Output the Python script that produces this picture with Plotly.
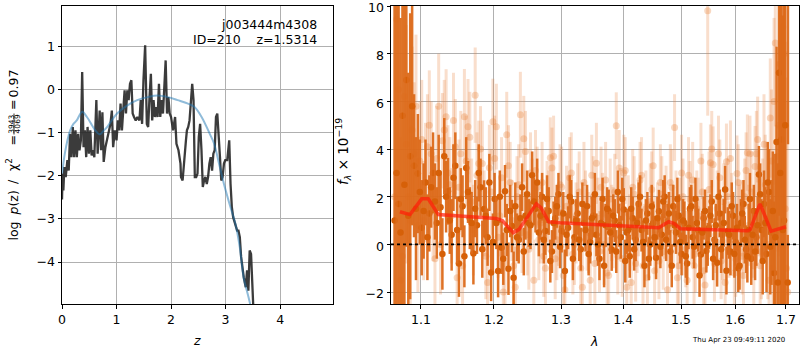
import plotly.graph_objects as go

# ---------------- redshift probability panel ----------------
z_grid = [0.000, 0.012, 0.025, 0.043, 0.068, 0.099, 0.123, 0.148, 0.173, 0.198, 0.222, 0.247,
          0.272, 0.296, 0.321, 0.346, 0.370, 0.395, 0.420, 0.444, 0.469, 0.494, 0.519, 0.543,
          0.568, 0.593, 0.630, 0.654, 0.691, 0.716, 0.741, 0.765, 0.796, 0.827, 0.858, 0.889,
          0.914, 0.938, 0.969, 1.000, 1.025, 1.049, 1.074, 1.099, 1.123, 1.148, 1.173, 1.198,
          1.222, 1.247, 1.272, 1.296, 1.321, 1.352, 1.383, 1.420, 1.444, 1.469, 1.494, 1.525,
          1.556, 1.580, 1.605, 1.630, 1.654, 1.679, 1.704, 1.728, 1.753, 1.778, 1.802, 1.827,
          1.852, 1.877, 1.901, 1.926, 1.951, 1.975, 2.000, 2.037, 2.074, 2.099, 2.136, 2.173,
          2.182, 2.212, 2.242, 2.273, 2.291, 2.315, 2.339, 2.364, 2.388, 2.412, 2.436, 2.461,
          2.485, 2.509, 2.533, 2.558, 2.582, 2.606, 2.630, 2.655, 2.679, 2.703, 2.727, 2.752,
          2.776, 2.800, 2.824, 2.848, 2.873, 2.897, 2.921, 2.945, 2.970, 2.994, 3.030, 3.067,
          3.091, 3.115, 3.139, 3.176, 3.212, 3.236, 3.261, 3.285, 3.309, 3.333, 3.370, 3.394,
          3.418, 3.442, 3.467, 3.491, 3.515, 3.527]
log_pz = [-2.55, -1.95, -2.34, -1.80, -2.03, -1.64, -1.88, -1.03, -1.57, -0.87, -1.57, -0.95,
          -1.57, -1.03, -1.41, -1.18, 0.40, -1.34, -0.95, -1.57, -0.87, -1.49, -0.95, -1.53,
          -1.41, -1.57, -0.25, -1.49, -0.49, -1.41, -0.53, -1.68, -1.34, -1.18, -1.03, -0.80,
          -0.49, -1.34, -0.95, -1.18, -0.72, -0.95, -0.33, -0.95, -0.49, -0.02, -0.56, -0.02,
          -0.25, 0.13, 0.21, -0.56, -0.64, -0.72, -0.64, -0.72, -0.25, -0.80, 0.21, 1.02,
          -0.80, -0.87, -0.18, 0.36, -0.72, -0.25, -0.64, -0.41, -0.64, 0.13, -0.64, -0.25,
          -0.56, 0.05, 0.67, -0.56, -0.18, -0.56, -0.64, -0.95, -0.64, -1.26, -1.41, -1.72,
          -2.03, -2.11, -1.57, -1.18, -0.95, -0.87, -0.72, -0.18, 0.13, -0.25, -2.03, -2.03,
          -1.95, -1.10, -0.80, -1.41, -2.26, -2.11, -2.03, -2.19, -2.03, -1.72, -1.57, -1.88,
          -1.49, -1.41, -0.64, -0.56, -1.26, -1.57, -2.11, -2.03, -1.72, -1.64, -1.64, -1.18,
          -2.19, -2.73, -2.96, -3.11, -3.27, -3.27, -3.42, -3.88, -4.19, -4.35, -4.58, -4.19,
          -4.66, -3.73, -3.81, -4.50, -4.97, -5.60]

z_model = [0.000, 0.025, 0.050, 0.100, 0.150, 0.210, 0.270, 0.370, 0.457, 0.550, 0.610, 0.690,
           0.770, 0.830, 0.890, 1.010, 1.200, 1.380, 1.570, 1.750, 1.940, 2.120, 2.310, 2.430,
           2.560, 2.710, 2.790, 2.880, 2.970, 3.090, 3.180, 3.260, 3.330, 3.420, 3.480]
log_pz_model = [-1.95, -1.72, -1.50, -1.18, -0.95, -0.80, -0.72, -0.52, -0.64, -0.83, -0.95, -1.04,
                -0.95, -0.87, -0.76, -0.56, -0.37, -0.25, -0.18, -0.14, -0.18, -0.25, -0.33, -0.41,
                -0.64, -1.03, -1.26, -1.72, -2.19, -2.73, -3.11, -3.65, -4.35, -4.81, -5.12]

# ---------------- 1D spectrum panel ----------------
# strong beams (solid orange)
wave_a = [1.066, 1.071, 1.076, 1.081, 1.086, 1.091, 1.096, 1.101, 1.106, 1.111, 1.116, 1.121,
          1.126, 1.131, 1.136, 1.141, 1.146, 1.151, 1.156, 1.161, 1.166, 1.171, 1.176, 1.181,
          1.186, 1.191, 1.196, 1.201, 1.206, 1.211, 1.216, 1.221, 1.226, 1.231, 1.236, 1.241,
          1.246, 1.251, 1.256, 1.261, 1.266, 1.271, 1.276, 1.281, 1.286, 1.291, 1.296, 1.301,
          1.306, 1.311, 1.316, 1.321, 1.326, 1.331, 1.336, 1.341, 1.346, 1.351, 1.356, 1.361,
          1.366, 1.371, 1.376, 1.381, 1.386, 1.391, 1.396, 1.401, 1.406, 1.411, 1.416, 1.421,
          1.426, 1.431, 1.436, 1.441, 1.446, 1.451, 1.456, 1.461, 1.466, 1.471, 1.476, 1.481,
          1.486, 1.491, 1.496, 1.501, 1.506, 1.511, 1.516, 1.521, 1.526, 1.531, 1.536, 1.541,
          1.546, 1.551, 1.556, 1.561, 1.566, 1.571, 1.576, 1.581, 1.586, 1.591, 1.596, 1.601,
          1.606, 1.611, 1.616, 1.621, 1.626, 1.631, 1.636, 1.641, 1.646, 1.651, 1.656, 1.661,
          1.666, 1.671, 1.676, 1.681, 1.686, 1.691, 1.696, 1.704]
flux_a = [1.0, 1.7, 5.4, 6.9, 3.7, 3.3, 2.97, 0.7, 2.6, 1.3, 3.0, 0.9,
          1.56, 3.7, 2.23, 0.4, 3.3, -0.8, 1.6, 3.2, 1.1, -0.38, 0.8, 2.4,
          1.49, 0.3, -1.18, 1.9, -1.12, -0.14, 2.23, -1.02, 0.77, 1.6, 0.2, 2.4,
          1.2, 0.9, 2.9, 1.5, 0.5, 2.0, 0.56, 1.4, -0.3, 1.1, 2.1, 0.56,
          -1.12, 0.7, 1.8, 0.3, 1.3, -0.2, 0.9, 1.6, 0.1, 1.2, 0.4, -0.6,
          1.9, 0.8, 1.4, -0.21, 1.0, 2.2, 0.3, 1.46, 0.5, -0.5, 1.1, 0.2,
          1.7, 0.6, -0.9, 1.3, 0.0, 0.9, -0.56, 1.39, 0.4, 2.0, 0.8, -0.3,
          1.6, 0.5, 1.2, -0.4, 0.9, -0.8, 1.5, 0.3, 1.9, 0.6, -0.42, 1.1,
          -0.28, 0.7, 1.8, 0.2, -0.77, 1.3, 0.4, 2.3, 0.56, -0.3, 1.2, 0.1,
          -1.0, 0.9, 1.7, -0.2, 0.6, -0.6, 1.4, 0.3, 2.93, 0.6, 1.7, -0.4,
          2.2, 0.5, -1.2, 4.3, 7.2, 4.4, 1.0, 12.0]
err_a = [9.0, 9.0, 8.0, 7.0, 6.0, 3.0, 2.5, 2.0, 1.8, 1.6, 1.7, 1.5,
         1.5, 1.6, 1.4, 1.5, 1.4, 1.4, 1.3, 1.3, 1.3, 1.3, 1.2, 1.2,
         1.2, 1.2, 1.2, 1.1, 1.1, 1.1, 1.1, 1.1, 1.1, 1.0, 1.0, 1.0,
         1.0, 1.0, 1.0, 1.0, 1.0, 1.0, 1.0, 1.0, 0.9, 0.9, 0.9, 0.9,
         0.9, 0.9, 0.9, 0.9, 0.9, 0.9, 0.9, 0.9, 0.9, 0.9, 0.9, 0.9,
         0.9, 0.9, 0.9, 0.9, 0.9, 0.9, 0.9, 0.9, 0.9, 0.9, 0.9, 0.9,
         0.9, 0.9, 0.9, 0.9, 0.9, 0.9, 0.9, 0.9, 0.9, 0.9, 0.9, 0.9,
         0.9, 0.9, 0.9, 0.9, 0.9, 0.9, 0.9, 0.9, 0.9, 0.9, 0.9, 0.9,
         0.9, 0.9, 0.9, 0.9, 1.0, 1.0, 1.0, 1.0, 1.0, 1.0, 1.0, 1.0,
         1.0, 1.0, 1.0, 1.0, 1.1, 1.1, 1.1, 1.2, 1.2, 1.3, 1.4, 1.6,
         1.8, 2.2, 3.0, 4.0, 6.0, 7.0, 9.0, 7.8]

wave_c = [1.0685, 1.0735, 1.0785, 1.0835, 1.0885, 1.0935, 1.0985, 1.1035, 1.1085, 1.1135,
          1.1185, 1.1235, 1.1285, 1.1335, 1.1385, 1.1435, 1.1485, 1.1535, 1.1585, 1.1635,
          1.1685, 1.1735, 1.1785, 1.1835, 1.1885, 1.1935, 1.1985, 1.2035, 1.2085, 1.2135,
          1.2185, 1.2235, 1.2285, 1.2335, 1.2385, 1.2435, 1.2485, 1.2535, 1.2585, 1.2635,
          1.2685, 1.2735, 1.2785, 1.2835, 1.2885, 1.2935, 1.2985, 1.3035, 1.3085, 1.3135,
          1.3185, 1.3235, 1.3285, 1.3335, 1.3385, 1.3435, 1.3485, 1.3535, 1.3585, 1.3635,
          1.3685, 1.3735, 1.3785, 1.3835, 1.3885, 1.3935, 1.3985, 1.4035, 1.4085, 1.4135,
          1.4185, 1.4235, 1.4285, 1.4335, 1.4385, 1.4435, 1.4485, 1.4535, 1.4585, 1.4635,
          1.4685, 1.4735, 1.4785, 1.4835, 1.4885, 1.4935, 1.4985, 1.5035, 1.5085, 1.5135,
          1.5185, 1.5235, 1.5285, 1.5335, 1.5385, 1.5435, 1.5485, 1.5535, 1.5585, 1.5635,
          1.5685, 1.5735, 1.5785, 1.5835, 1.5885, 1.5935, 1.5985, 1.6035, 1.6085, 1.6135,
          1.6185, 1.6235, 1.6285, 1.6335, 1.6385, 1.6435, 1.6485, 1.6535, 1.6585, 1.6635,
          1.6685, 1.6735, 1.6785, 1.6835, 1.6885, 1.6935, 1.6985, 1.7035]
flux_c = [3.0, 0.5, 2.5, 1.2, 5.8, 1.5, 2.2, 1.4, 0.3, 2.4,
          1.8, 3.0, -0.4, 2.0, 1.0, 2.8, 0.6, 1.9, -0.5, 2.2,
          0.9, 1.5, 3.0, -0.2, 1.2, 2.6, 0.1, 0.9, 2.0, -0.6,
          0.6, 1.4, -1.4, 0.3, 1.1, -0.3, 2.1, 0.8, 1.8, 2.6,
          1.2, 0.2, 1.9, -0.7, 0.9, 1.6, -0.1, 1.3, 0.4, 2.0,
          -0.6, 1.0, 0.2, 1.7, 0.6, -0.4, 1.1, 2.1, 0.0, 0.9,
          -0.9, 1.5, 0.5, 1.2, -0.3, 0.8, 1.9, -0.7, 0.6, 1.5,
          -0.2, 0.9, 2.0, 0.1, 1.0, -0.6, 1.6, 0.3, 1.1, -0.1,
          1.8, 0.2, 1.3, -0.9, 0.8, 1.9, 0.1, 1.0, -0.5, 0.7,
          1.6, -0.1, 0.9, -1.3, 0.5, 1.4, 0.0, 1.2, -0.6, 0.8,
          2.0, -0.2, 0.9, -1.1, 0.4, 1.6, -0.4, 0.7, -0.9, 1.3,
          0.2, -0.5, 1.9, 0.4, -0.3, 0.8, 2.1, -0.7, 0.9, 2.6,
          -0.1, 1.4, 0.3, -1.6, 3.0, 0.6, 5.0, -1.6]
err_c = [9.0, 9.0, 8.0, 6.0, 5.0, 3.0, 2.2, 2.0, 1.8, 1.7,
         1.6, 1.6, 1.5, 1.5, 1.4, 1.4, 1.4, 1.3, 1.3, 1.3,
         1.3, 1.2, 1.2, 1.2, 1.2, 1.2, 1.2, 1.1, 1.1, 1.1,
         1.1, 1.1, 1.1, 1.0, 1.0, 1.0, 1.0, 1.0, 1.0, 1.0,
         1.0, 1.0, 1.0, 0.9, 0.9, 0.9, 0.9, 0.9, 0.9, 0.9,
         0.9, 0.9, 0.9, 0.9, 0.9, 0.9, 0.9, 0.9, 0.9, 0.9,
         0.9, 0.9, 0.9, 0.9, 0.9, 0.9, 0.9, 0.9, 0.9, 0.9,
         0.9, 0.9, 0.9, 0.9, 0.9, 0.9, 0.9, 0.9, 0.9, 0.9,
         0.9, 0.9, 0.9, 0.9, 0.9, 0.9, 0.9, 0.9, 0.9, 0.9,
         0.9, 0.9, 0.9, 0.9, 0.9, 0.9, 0.9, 0.9, 0.9, 0.9,
         1.0, 1.0, 1.0, 1.0, 1.0, 1.0, 1.0, 1.0, 1.0, 1.0,
         1.0, 1.1, 1.1, 1.1, 1.2, 1.2, 1.3, 1.4, 1.5, 1.7,
         2.0, 2.5, 3.5, 5.0, 7.0, 9.0, 9.0, 2.0]

# weak beams (faint orange)
wave_b = [1.0685, 1.0735, 1.0785, 1.0835, 1.0885, 1.0935, 1.0985, 1.1035, 1.1085, 1.1135,
          1.1185, 1.1235, 1.1285, 1.1335, 1.1385, 1.1435, 1.1485, 1.1535, 1.1585, 1.1635,
          1.1685, 1.1735, 1.1785, 1.1835, 1.1885, 1.1935, 1.1985, 1.2035, 1.2085, 1.2135,
          1.2185, 1.2235, 1.2285, 1.2335, 1.2385, 1.2435, 1.2485, 1.2535, 1.2585, 1.2635,
          1.2685, 1.2735, 1.2785, 1.2835, 1.2885, 1.2935, 1.2985, 1.3035, 1.3085, 1.3135,
          1.3185, 1.3235, 1.3285, 1.3335, 1.3385, 1.3435, 1.3485, 1.3535, 1.3585, 1.3635,
          1.3685, 1.3735, 1.3785, 1.3835, 1.3885, 1.3935, 1.3985, 1.4035, 1.4085, 1.4135,
          1.4185, 1.4235, 1.4285, 1.4335, 1.4385, 1.4435, 1.4485, 1.4535, 1.4585, 1.4635,
          1.4685, 1.4735, 1.4785, 1.4835, 1.4885, 1.4935, 1.4985, 1.5035, 1.5085, 1.5135,
          1.5185, 1.5235, 1.5285, 1.5335, 1.5385, 1.5435, 1.5485, 1.5535, 1.5585, 1.5635,
          1.5685, 1.5735, 1.5785, 1.5835, 1.5885, 1.5935, 1.5985, 1.6035, 1.6085, 1.6135,
          1.6185, 1.6235, 1.6285, 1.6335, 1.6385, 1.6435, 1.6485, 1.6535, 1.6585, 1.6635,
          1.6685, 1.6735, 1.6785, 1.6835, 1.6885, 1.6935, 1.6985, 1.7035]
flux_b = [9.44, -1.5, 6.2, 2.0, 4.8, 5.8, 3.5, 1.0, 4.1, 3.8,
          -0.6, 5.8, 4.35, 5.35, 2.5, 5.2, -1.4, 3.8, 5.36, 4.94,
          1.8, 6.26, 3.39, 3.39, -0.5, 3.22, 5.15, 4.94, 1.2, -2.0,
          4.6, 2.6, -0.9, 2.0, 5.44, 4.43, 0.4, 3.0, -1.5, 2.4,
          0.9, -0.5, 1.8, 3.63, 3.7, 0.2, 2.5, -1.3, 1.6, 2.8,
          -0.4, 0.9, 2.2, -1.8, 1.4, 0.5, 2.9, -0.8, 1.1, 2.4,
          0.0, -1.2, 1.9, 0.7, 4.98, 3.2, -0.6, 3.1, 1.3, -1.6,
          2.1, 0.4, 2.7, -0.9, 1.5, 0.2, 2.3, -1.1, 1.0, 2.6,
          -0.3, 1.7, 0.6, 2.4, 4.9, -1.4, 1.2, 2.0, -0.2, 2.9,
          0.8, -0.9, 1.5, 0.3, 2.2, -1.7, 9.8, 3.43, 3.35, 0.4,
          3.8, -0.7, 1.8, 3.47, 0.2, 1.4, -1.2, 2.97, 0.9, -0.5,
          2.0, 3.85, 3.8, 0.3, 3.27, 4.4, -0.9, 1.6, 2.5, 0.0,
          5.3, -1.0, 8.45, 3.7, 7.57, 9.12, 1.5, -2.0]
err_b = [6.0, 6.0, 5.0, 4.0, 3.5, 3.0, 2.5, 2.5, 2.2, 2.2,
         2.0, 2.2, 2.0, 2.0, 2.0, 2.0, 2.0, 1.8, 2.0, 2.0,
         1.8, 2.0, 1.8, 1.8, 1.8, 1.8, 1.8, 1.8, 1.7, 1.7,
         1.8, 1.7, 1.7, 1.7, 1.8, 1.8, 1.7, 1.7, 1.7, 1.7,
         1.7, 1.7, 1.7, 1.7, 1.7, 1.7, 1.7, 1.7, 1.7, 1.7,
         1.7, 1.7, 1.7, 1.7, 1.7, 1.7, 1.7, 1.7, 1.7, 1.7,
         1.7, 1.7, 1.7, 1.7, 1.4, 1.6, 1.6, 1.4, 1.6, 1.6,
         1.6, 1.6, 1.6, 1.6, 1.6, 1.6, 1.6, 1.6, 1.6, 1.6,
         1.6, 1.6, 1.6, 1.6, 1.4, 1.6, 1.6, 1.6, 1.6, 1.6,
         1.6, 1.6, 1.6, 1.6, 1.6, 1.6, 4.4, 1.6, 1.6, 1.6,
         1.6, 1.6, 1.6, 1.6, 1.6, 1.6, 1.6, 1.6, 1.6, 1.6,
         1.6, 1.6, 1.6, 1.7, 1.7, 1.8, 1.9, 2.0, 2.1, 2.3,
         2.5, 3.0, 3.5, 4.0, 5.0, 6.0, 7.0, 8.0]

wave_d = [1.066, 1.071, 1.076, 1.081, 1.086, 1.091, 1.096, 1.101, 1.106, 1.111, 1.116, 1.121,
          1.126, 1.131, 1.136, 1.141, 1.146, 1.151, 1.156, 1.161, 1.166, 1.171, 1.176, 1.181,
          1.186, 1.191, 1.196, 1.201, 1.206, 1.211, 1.216, 1.221, 1.226, 1.231, 1.236, 1.241,
          1.246, 1.251, 1.256, 1.261, 1.266, 1.271, 1.276, 1.281, 1.286, 1.291, 1.296, 1.301,
          1.306, 1.311, 1.316, 1.321, 1.326, 1.331, 1.336, 1.341, 1.346, 1.351, 1.356, 1.361,
          1.366, 1.371, 1.376, 1.381, 1.386, 1.391, 1.396, 1.401, 1.406, 1.411, 1.416, 1.421,
          1.426, 1.431, 1.436, 1.441, 1.446, 1.451, 1.456, 1.461, 1.466, 1.471, 1.476, 1.481,
          1.486, 1.491, 1.496, 1.501, 1.506, 1.511, 1.516, 1.521, 1.526, 1.531, 1.536, 1.541,
          1.546, 1.551, 1.556, 1.561, 1.566, 1.571, 1.576, 1.581, 1.586, 1.591, 1.596, 1.601,
          1.606, 1.611, 1.616, 1.621, 1.626, 1.631, 1.636, 1.641, 1.646, 1.651, 1.656, 1.661,
          1.666, 1.671, 1.676, 1.681, 1.686, 1.691, 1.696, 1.701]
flux_d = [2.0, 6.5, -0.5, 4.2, 1.0, 3.8, 0.8, 4.4, 2.6, 5.0, 1.5, 3.6,
          0.0, 4.8, 3.0, 1.2, 4.1, 2.4, -0.9, 3.5, 4.5, 0.6, 2.9, 4.0,
          1.3, -1.6, 2.2, 3.6, 0.3, 2.8, -0.8, 3.3, 1.0, -1.8, 2.5, 0.5,
          3.9, -0.2, 1.9, 3.1, 0.2, 2.6, -1.0, 1.4, 3.2, -0.6, 0.8, 2.4,
          -1.9, 1.2, 3.0, 0.0, 1.7, -1.0, 2.6, 0.6, -1.5, 2.0, 3.4, -0.3,
          1.3, 2.7, -1.3, 0.9, 2.2, -0.5, 1.6, 3.0, -1.8, 0.5, 2.4, -0.8,
          1.1, 2.9, 0.1, -1.4, 1.8, 3.3, 0.4, -0.7, 2.1, 1.0, -1.9, 2.6,
          0.7, 1.5, -0.9, 3.0, 0.3, -1.5, 1.9, 2.7, -0.4, 1.2, 3.5, -1.1,
          0.6, 2.3, 4.0, -0.8, 1.5, 2.8, 0.1, -1.6, 2.0, 3.6, 0.5, -0.6,
          2.6, 1.1, -1.3, 3.1, 0.8, 2.2, -0.9, 3.8, 1.4, -0.3, 4.2, 2.0,
          -1.5, 3.5, 6.0, 0.5, 5.0, 2.5, 8.0, -1.0]
err_d = [8.0, 7.0, 6.0, 5.0, 4.0, 3.0, 2.8, 2.5, 2.5, 2.3, 2.2, 2.2,
         2.1, 2.1, 2.0, 2.0, 2.0, 2.0, 1.9, 1.9, 1.9, 1.9, 1.8, 1.8,
         1.8, 1.8, 1.8, 1.8, 1.7, 1.7, 1.7, 1.7, 1.7, 1.7, 1.7, 1.7,
         1.7, 1.7, 1.7, 1.7, 1.7, 1.7, 1.7, 1.7, 1.7, 1.7, 1.7, 1.7,
         1.7, 1.7, 1.7, 1.7, 1.7, 1.7, 1.7, 1.7, 1.7, 1.7, 1.7, 1.7,
         1.7, 1.6, 1.6, 1.6, 1.6, 1.6, 1.6, 1.6, 1.6, 1.6, 1.6, 1.6,
         1.6, 1.6, 1.6, 1.6, 1.6, 1.6, 1.6, 1.6, 1.6, 1.6, 1.6, 1.6,
         1.6, 1.6, 1.6, 1.6, 1.6, 1.6, 1.6, 1.6, 1.6, 1.6, 1.6, 1.6,
         1.6, 1.6, 1.6, 1.6, 1.6, 1.6, 1.6, 1.6, 1.6, 1.6, 1.6, 1.6,
         1.6, 1.6, 1.6, 1.6, 1.7, 1.7, 1.8, 1.8, 1.9, 2.0, 2.1, 2.3,
         2.6, 3.0, 3.5, 4.5, 5.5, 6.5, 7.0, 8.0]

wave_model = [1.0728, 1.0857, 1.101, 1.1096, 1.123, 1.203, 1.212, 1.228, 1.2365, 1.2623,
              1.2695, 1.281, 1.2985, 1.406, 1.4606, 1.478, 1.487, 1.499, 1.624, 1.629,
              1.648, 1.658, 1.670, 1.700]
flux_model = [1.37, 1.25, 1.91, 1.91, 1.25, 1.09, 1.0, 0.49, 0.63, 1.70,
              1.53, 0.95, 0.91, 0.77, 0.70, 0.95, 0.88, 0.66, 0.57, 0.63,
              1.70, 1.19, 0.56, 0.74]

z_ticks = [0, 1, 2, 3, 4]
pz_ticks = [-4, -3, -2, -1, 0, 1]
wave_ticks = [1.1, 1.2, 1.3, 1.4, 1.5, 1.6, 1.7]
flux_ticks = [-2, 0, 2, 4, 6, 8, 10]

W, H = 800, 350
FONT = "DejaVu Sans"
NB = "\u00a0"


def px(x):
    return x / W


def py(y):
    return 1 - y / H


fig = go.Figure()

# p(z) curves
fig.add_trace(go.Scatter(x=z_grid, y=log_pz, mode="lines", xaxis="x", yaxis="y",
                         line=dict(color="rgba(38,38,38,0.9)", width=2.3), hoverinfo="skip"))
fig.add_trace(go.Scatter(x=z_model, y=log_pz_model, mode="lines", xaxis="x", yaxis="y",
                         line=dict(color="rgba(31,119,180,0.5)", width=2, shape="spline"),
                         hoverinfo="skip"))

faint = "rgba(232,125,50,0.25)"
faint_dot = "rgba(232,125,50,0.3)"
strong = "rgba(220,106,26,0.95)"
strong_dot = "rgb(214,96,8)"

# faint beams first, then the strong ones on top
for wv, fl, er in ((wave_b, flux_b, err_b), (wave_d, flux_d, err_d)):
    fig.add_trace(go.Scatter(x=wv, y=fl, mode="markers", xaxis="x2", yaxis="y2",
                             marker=dict(size=7, color=faint_dot, line=dict(width=0)),
                             error_y=dict(type="data", array=er, visible=True, thickness=3,
                                          width=0, color=faint),
                             hoverinfo="skip"))
for wv, fl, er in ((wave_a, flux_a, err_a), (wave_c, flux_c, err_c)):
    fig.add_trace(go.Scatter(x=wv, y=fl, mode="markers", xaxis="x2", yaxis="y2",
                             marker=dict(size=6.5, color=strong_dot, line=dict(width=0)),
                             error_y=dict(type="data", array=er, visible=True, thickness=2.5,
                                          width=0, color=strong),
                             hoverinfo="skip"))

# best-fit model
fig.add_trace(go.Scatter(x=wave_model, y=flux_model, mode="lines", xaxis="x2", yaxis="y2",
                         line=dict(color="rgba(255,30,10,0.72)", width=3.5), hoverinfo="skip"))

axis_common = dict(showgrid=True, gridcolor="#b0b0b0", gridwidth=1, zeroline=False,
                   showline=True, linecolor="black", linewidth=1, mirror=True,
                   ticks="outside", ticklen=3.5, tickcolor="black", tickwidth=1,
                   ticklabeloverflow="allow",
                   tickfont=dict(family=FONT, size=12.5, color="black"), automargin=False)

fig.update_layout(
    width=W, height=H, margin=dict(l=0, r=0, t=0, b=0),
    paper_bgcolor="white", plot_bgcolor="white", showlegend=False,
    xaxis=dict(domain=[px(62), px(333)], range=[0, 4.97], tickvals=z_ticks, anchor="y",
               **axis_common),
    yaxis=dict(domain=[py(304), py(6)], range=[-4.97, 1.93], tickvals=pz_ticks, anchor="x",
               **axis_common),
    xaxis2=dict(domain=[px(391), px(799)], type="log", range=[0.025879, 0.237193],
                tickvals=wave_ticks, ticktext=[str(v) for v in wave_ticks], anchor="y2",
                **axis_common),
    yaxis2=dict(domain=[py(304), py(6)], range=[-2.5, 10.001], tickvals=flux_ticks, anchor="x2",
                ticklabelshift=2, **axis_common),
)

# zero level of the spectrum
fig.add_shape(type="line", xref="x2 domain", yref="y2", x0=0, x1=1, y0=0, y1=0,
              line=dict(color="black", width=1.6, dash="dot"), layer="above")


def note(text, x, y, size=12.5, xanchor="center", yanchor="middle", angle=0):
    fig.add_annotation(text=text, xref="paper", yref="paper", x=px(x), y=py(y),
                       xanchor=xanchor, yanchor=yanchor, textangle=angle, showarrow=False,
                       font=dict(family=FONT, size=size, color="black"))


# object labels inside the p(z) panel
note("j003444m4308", 319, 24, xanchor="right")
note("ID=210" + NB * 4 + "z=1.5314", 319, 39, xanchor="right")

# axis titles
note("<i>z</i>", 197, 340)
note("<i>λ</i>", 594, 341)
note("<i>f</i><sub><i>λ</i></sub>" + NB + "×" + NB + "10<sup>−19</sup>", 343, 152,
     size=13.5, angle=-90)

# p(z) axis title, set piece by piece along the vertical
note("log", 12.5, 231, angle=-90)
note("<i>p</i>(z)", 12.5, 203, angle=-90)
note("/", 12.5, 181.5, angle=-90)
note("χ<sup>2</sup>", 11.5, 164.5, angle=-90)
note("=", 12.5, 141, angle=-90)
note("3943", 10.8, 124, size=7.5, angle=-90)
note("4069", 17.4, 124, size=7.5, angle=-90)
fig.add_shape(type="line", xref="paper", yref="paper", x0=px(14), x1=px(14),
              y0=py(113.5), y1=py(134.5), line=dict(color="black", width=0.8))
note("=", 12.5, 105.5, angle=-90)
note("0.97", 12.5, 84, angle=-90)

# timestamp
note("Thu Apr 23 09:49:11 2020", 787, 340, size=7, xanchor="right")

fig.write_html("out.html")
